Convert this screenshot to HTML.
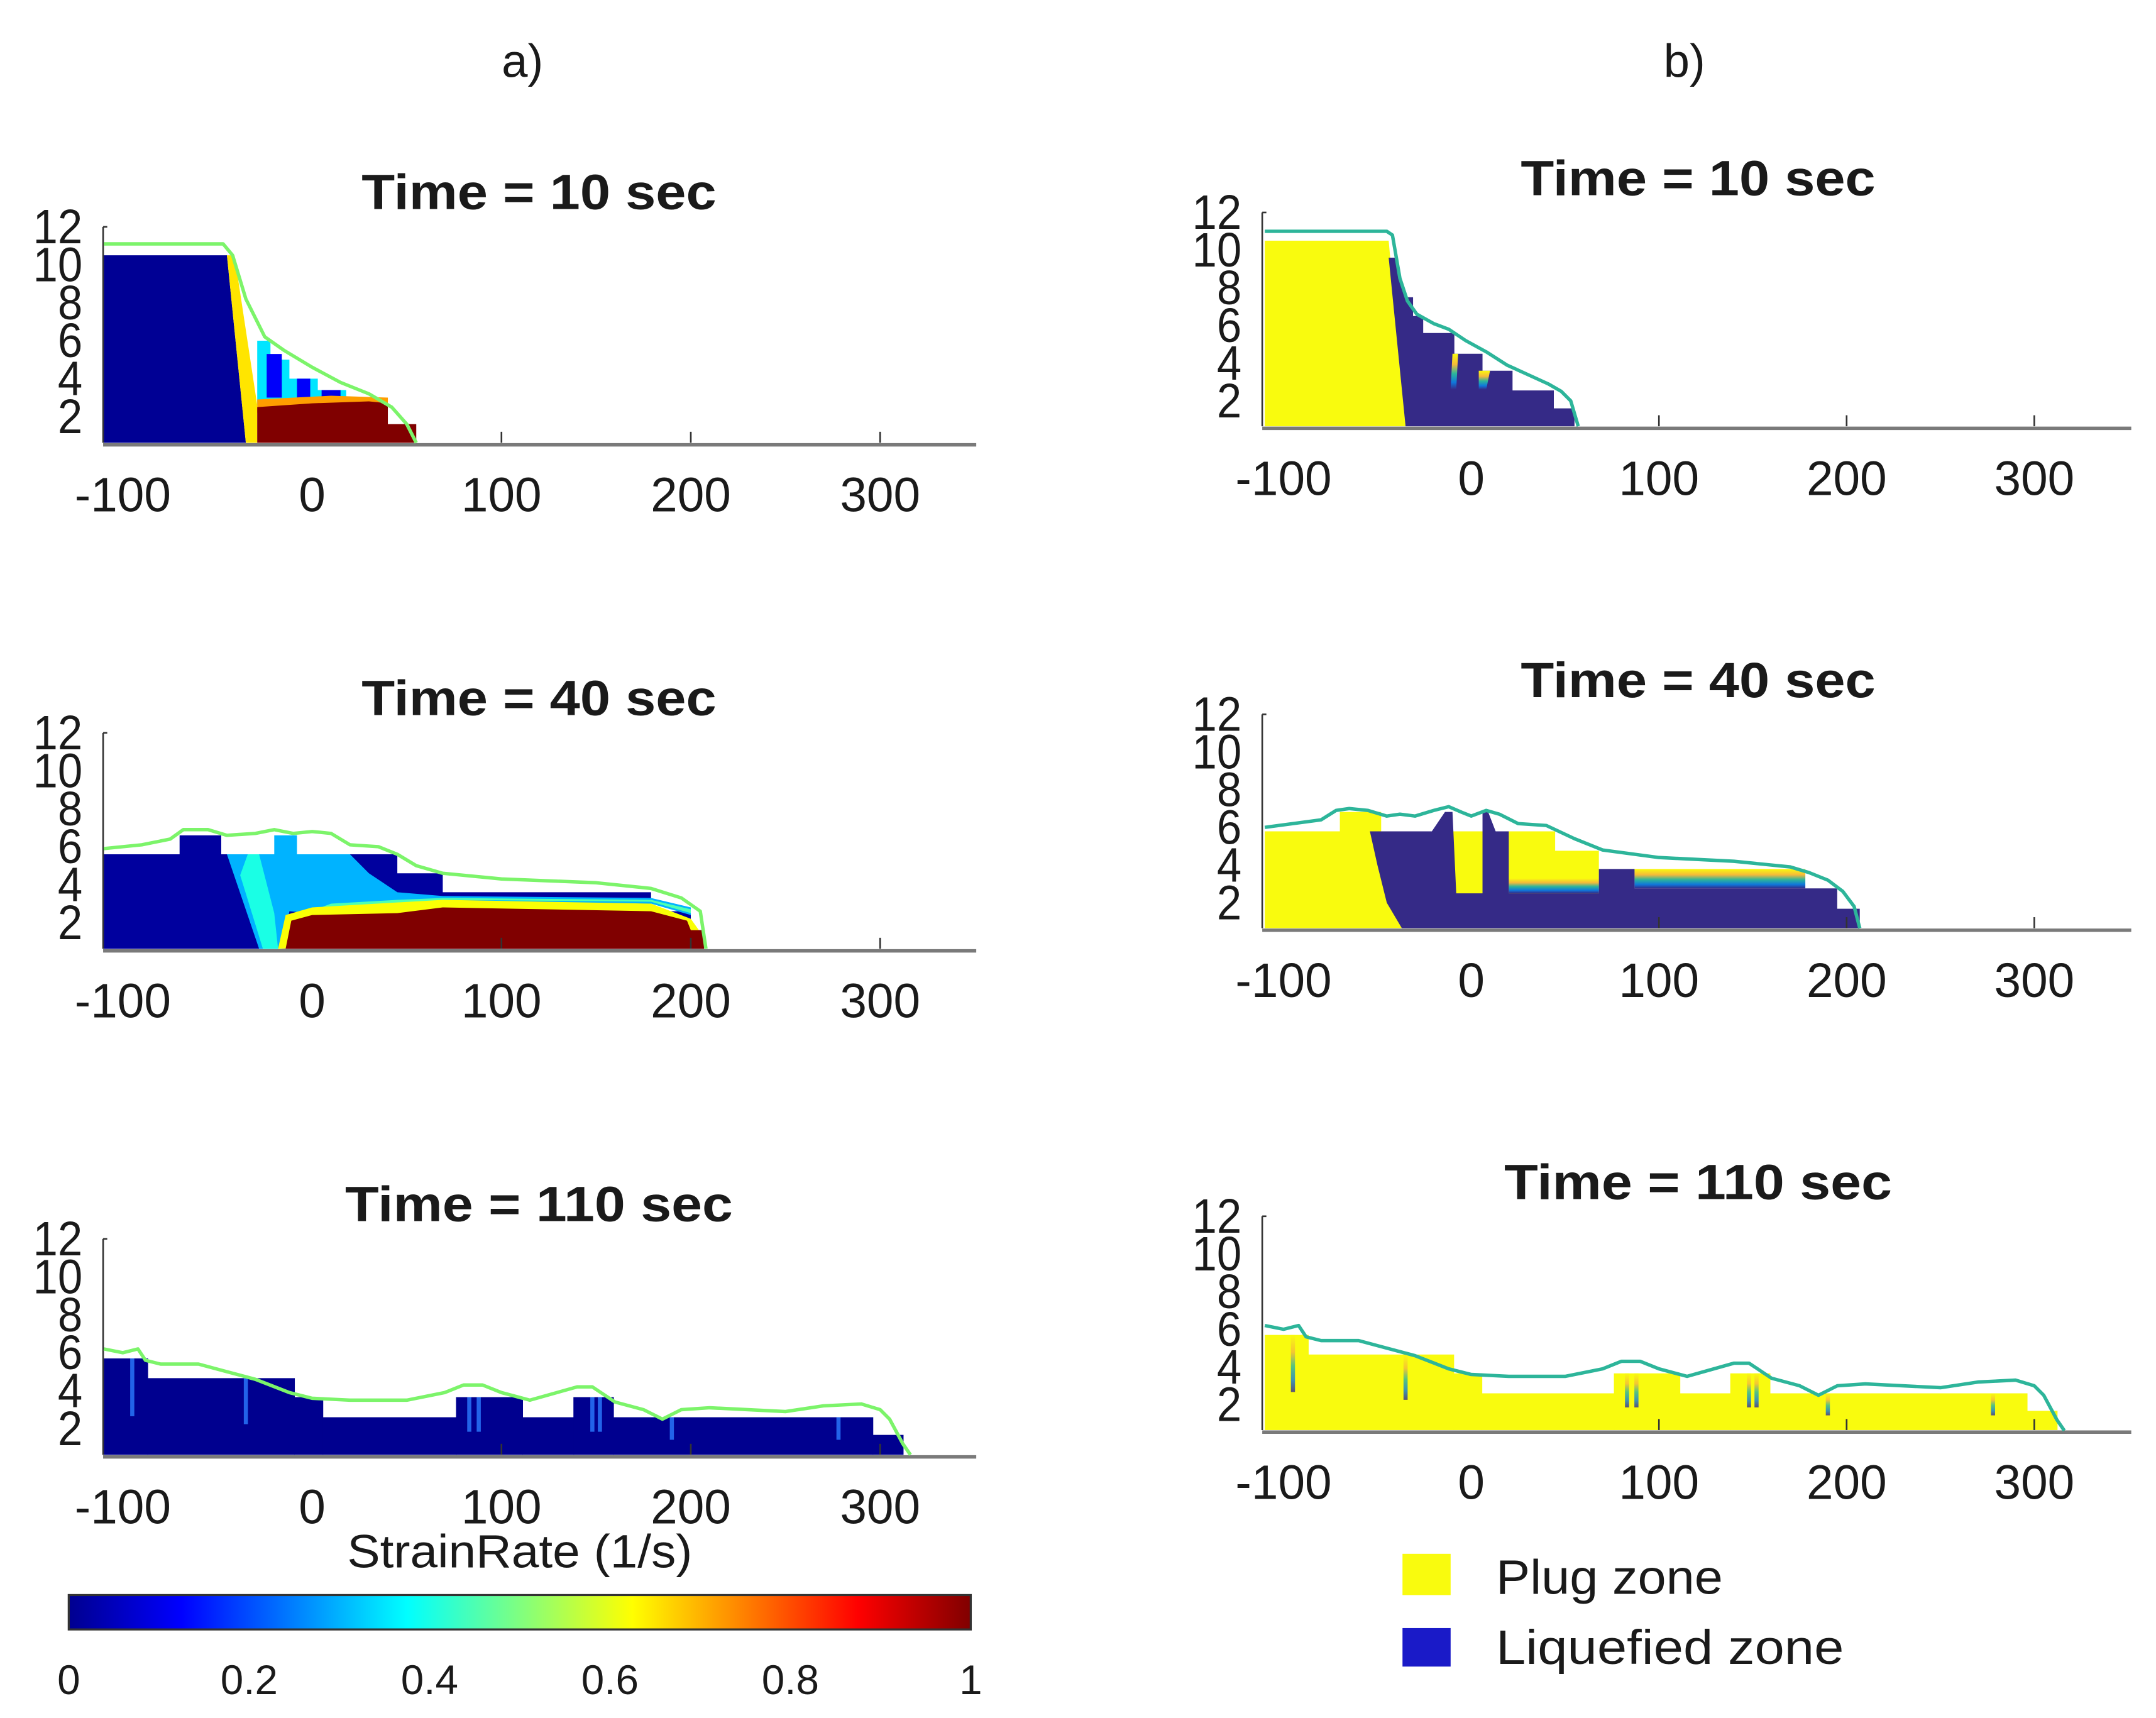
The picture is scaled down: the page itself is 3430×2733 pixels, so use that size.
<!DOCTYPE html>
<html><head><meta charset="utf-8"><style>
html,body{margin:0;padding:0;background:#fff;}
svg{display:block;}
text{font-family:"Liberation Sans",sans-serif;fill:#1a1a1a;}
</style></head>
<body>
<svg id="fig" width="3430" height="2733" viewBox="0 0 1568 1249.4" preserveAspectRatio="none" xmlns="http://www.w3.org/2000/svg">
<defs>
<linearGradient id="jet" x1="0" x2="1" y1="0" y2="0">
<stop offset="0" stop-color="#00008F"/><stop offset="0.125" stop-color="#0000FF"/><stop offset="0.375" stop-color="#00FFFF"/><stop offset="0.625" stop-color="#FFFF00"/><stop offset="0.875" stop-color="#FF0000"/><stop offset="1" stop-color="#800000"/>
</linearGradient>
<linearGradient id="parulaV" x1="0" x2="0" y1="0" y2="1">
<stop offset="0" stop-color="#F9FB0E"/><stop offset="0.3" stop-color="#F5B93A"/><stop offset="0.55" stop-color="#2DB59A"/><stop offset="0.8" stop-color="#0F77DB"/><stop offset="1" stop-color="#352A87"/>
</linearGradient>
</defs>
<text x="380" y="56" font-size="34" text-anchor="middle">a)</text>
<text x="1225" y="56" font-size="34" text-anchor="middle">b)</text>
<g id="plots"></g>
<text x="378" y="1140" font-size="34" text-anchor="middle" textLength="251" lengthAdjust="spacingAndGlyphs">StrainRate (1/s)</text>
<rect x="50" y="1160" width="656" height="25" fill="url(#jet)" stroke="#333" stroke-width="1.5"/>
<g id="cbticks"></g>
<rect x="1020" y="1130" width="35" height="30" fill="#F9FB0E"/>
<text x="1088" y="1159" font-size="35" textLength="165" lengthAdjust="spacingAndGlyphs">Plug zone</text>
<rect x="1020" y="1184" width="35" height="28" fill="#1A1AC8"/>
<text x="1088" y="1210" font-size="35" textLength="253" lengthAdjust="spacingAndGlyphs">Liquefied zone</text>
</svg>
<script>
// ---- data ----
const xTicks = [-100, 0, 100, 200, 300];
const yTicks = [2, 4, 6, 8, 10, 12];
const cbTicks = [0, 0.2, 0.4, 0.6, 0.8, 1];
const titles = ["Time = 10 sec", "Time = 40 sec", "Time = 110 sec"];

// surfaces (x, height)
const surfX10 = [-110,-47,-42,-35,-25,-15,0,15,30,42,50,55];
const surfH10 = [11.1,11.1,10.5,8.2,6.2,5.5,4.6,3.8,3.2,2.5,1.6,0.62];
const surfX40 = [-110,-90,-75,-68,-55,-45,-30,-20,-10,0,10,20,35,45,55,69,100,150,179,195,205,208];
const surfH40 = [5.9,6.1,6.4,6.9,6.9,6.6,6.7,6.9,6.7,6.8,6.7,6.1,6.0,5.6,5.0,4.6,4.3,4.1,3.8,3.3,2.6,0.62];
const surfX110 = [-110,-100,-92,-88,-80,-60,-45,-30,-12,0,20,50,70,80,90,100,115,140,148,160,175,185,195,210,250,270,290,300,305,312,316];
const surfH110 = [6.2,6.0,6.2,5.6,5.4,5.4,5.0,4.6,3.9,3.6,3.5,3.5,3.9,4.3,4.3,3.9,3.5,4.2,4.2,3.4,3.0,2.5,3.0,3.1,2.9,3.2,3.3,3.0,2.5,1.2,0.62];
const surfXb10 = [-110,-45,-42,-38,-34,-29,-20,-12,-3,8,19,30,41,48,53,57];
const surfHb10 = [11,11,10.8,8.5,7.3,6.6,6.1,5.8,5.2,4.6,3.9,3.4,2.9,2.5,2.0,0.65];
const surfXb40 = [-110,-95,-80,-72,-65,-55,-45,-38,-30,-20,-12,-5,0,8,15,25,40,55,70,100,140,170,180,190,198,204,207];
const surfHb40 = [6.0,6.2,6.4,6.9,7.0,6.9,6.6,6.7,6.6,6.9,7.1,6.8,6.6,6.9,6.7,6.2,6.1,5.4,4.8,4.4,4.2,3.9,3.6,3.2,2.6,1.8,0.65];

// step blocks at 110 s (left edge, right edge, top height)
const stepX0 = [-110,-87,-9.5,5.5,76,111,138,159,296];
const stepX1 = [-87,-9.5,5.5,76,111,138,159,296,312];
const stepTop = [5.7,4.66,3.66,2.6,3.66,2.6,3.66,2.6,1.67];
const streakX = [-95,-35,83,88,148,152,190,278];

// strain-rate zones (polygon points as [x,h], strain value)
const zonesA10 = [
 {v:0.02, p:[[-110,0.62],[-110,10.5],[-45,10.5],[-35,0.62]]},
 {v:0.65, p:[[-45,10.5],[-41,10.5],[-29,2.6],[-29,0.62],[-35,0.62]]},
 {v:0.35, p:[[-29,2.6],[-29,6.0],[-22,6.0],[-22,5.0],[-12,5.0],[-12,4.0],[3,4.0],[3,3.4],[18,3.4],[18,2.6]]},
 {v:0.12, p:[[-24,3],[-24,5.3],[-16,5.3],[-16,3]]},
 {v:0.12, p:[[-8,2.9],[-8,4.0],[-1,4.0],[-1,2.9]]},
 {v:0.1, p:[[5,3],[5,3.4],[15,3.4],[15,3]]},
 {v:0.72, p:[[-29,2.2],[-29,2.9],[10,3.1],[40,3],[40,2.4]]},
 {v:1.0, p:[[-29,0.62],[-29,2.5],[0,2.7],[30,2.8],[40,2.7],[40,1.6],[55,1.6],[55,0.62]]}
];
const zonesA40 = [
 {v:0.03, p:[[-110,0.62],[-110,5.6],[-70,5.6],[-70,6.6],[-48,6.6],[-48,5.6],[45,5.6],[45,4.6],[69,4.6],[69,3.6],[179,3.6],[179,2.6],[200,2.6],[200,1.6],[207,1.6],[207,0.62]]},
 {v:0.3, p:[[-45,5.6],[-28,0.62],[-16,0.62],[-12,2.6],[10,2.4],[45,2.9],[69,3.1],[179,3.0],[200,2.4],[200,2.8],[179,3.3],[69,3.4],[45,3.6],[30,4.6],[20,5.6]]},
 {v:0.4, p:[[-38,4.5],[-26,0.62],[-18,0.62],[-20,2.5],[-28,5.6],[-34,5.6]]},
 {v:0.45, p:[[-6,2.4],[10,2.5],[45,3.0],[69,3.2],[179,3.1],[200,2.5],[200,2.7],[179,3.2],[69,3.3],[45,3.2],[10,3.0]]},
 {v:0.3, p:[[-20,5.6],[-20,6.6],[-8,6.6],[-8,5.6]]},
 {v:0.62, p:[[-18,0.62],[-14,2.4],[0,2.8],[69,3.2],[179,3.0],[200,2.2],[205,1.5],[200,1.5]]},
 {v:1.0, p:[[-14,0.62],[-11,2.1],[0,2.4],[45,2.5],[69,2.8],[179,2.6],[198,2.1],[200,1.6],[207,1.6],[207,0.62]]}
];
// plug (0) / liquefied (1) / transition (0.5) zones
const zonesB10 = [
 {v:0, p:[[-110,0.65],[-110,10.5],[-44,10.5],[-35,0.65]]},
 {v:1, p:[[-44,9.6],[-40,9.6],[-35,7.5],[-31,7.5],[-31,6.5],[-25.6,6.5],[-25.6,5.6],[-9,5.6],[-9,4.5],[6,4.5],[6,3.6],[22,3.6],[22,2.55],[44,2.55],[44,1.6],[55,1.6],[55,0.65],[-35,0.65]]},
 {v:0.5, p:[[-11,2.6],[-10,4.5],[-7,4.5],[-8,2.6]]},
 {v:0.5, p:[[4,2.6],[4,3.6],[10,3.6],[8,2.6]]}
];
const zonesB40 = [
 {v:0, p:[[-110,0.65],[-110,5.79],[-70,5.79],[-70,6.82],[-48,6.82],[-48,5.79],[44.7,5.79],[44.7,4.76],[68,4.76],[68,0.65]]},
 {v:0.5, p:[[20,2.5],[20,3.3],[68,3.3],[68,2.5]]},
 {v:0.5, p:[[87,2.76],[87,3.79],[178,3.79],[178,2.76]]},
 {v:1, p:[[-54,5.79],[-21,5.79],[-14,6.82],[-10,6.82],[-8,2.5],[6,2.5],[6,6.82],[9,6.82],[13,5.79],[20,5.79],[20,2.5],[68,2.5],[68,3.79],[87,3.79],[87,2.76],[195,2.76],[195,1.68],[207,1.68],[207,0.65],[-37,0.65],[-45,2],[-50,4]]}
];

// ---- layout ----
const panelsA = {x0:227, sx:1.377, left:75, right:710, sy:13.8, h0:0.62, bases:[322,690,1058], titleX:392, titleY:[152,520,888], line:"#7CF46A"};
const panelsB = {x0:1070, sx:1.365, left:918, right:1550, sy:13.7, h0:0.65, bases:[310,675,1040], titleX:1235, titleY:[142,507,872], line:"#2DB59A"};

const NS = "http://www.w3.org/2000/svg";
const root = document.getElementById("plots");
function mk(tag, attrs, parent){ const e=document.createElementNS(NS,tag); for(const k in attrs) e.setAttribute(k,attrs[k]); (parent||root).appendChild(e); return e; }

function jet(v){
  v=Math.max(0,Math.min(1,v));
  const r=Math.max(0,Math.min(1,1.5-Math.abs(4*v-3)));
  const g=Math.max(0,Math.min(1,1.5-Math.abs(4*v-2)));
  const b=Math.max(0,Math.min(1,1.5-Math.abs(4*v-1)));
  return `rgb(${Math.round(r*255)},${Math.round(g*255)},${Math.round(b*255)})`;
}
function plugColor(v){ return v===0?"#F9FB0E":(v===1?"#352A87":"url(#parulaV)"); }

function drawPanel(P, row, zones, steps, streaks, sx, sh, colorFn, stepColor, streakColor, key){
  const base = P.bases[row];
  const X = x => P.x0 + P.sx*x;
  const Y = h => base - P.sy*(h - P.h0);
  const g = mk("g",{});
  
  
  const t = mk("text",{x:P.titleX, y:P.titleY[row], "font-size":36, "font-weight":"bold", "text-anchor":"middle", "textLength": row===2?282:258, "lengthAdjust":"spacingAndGlyphs"}, g);
  t.textContent = titles[row];
  
  
  if(zones){ zones.forEach((z,i)=>{
    const el = mk("polygon",{points:z.p.map(q=>X(q[0])+","+Y(q[1])).join(" "), fill:colorFn(z.v)}, g);
    
    
  }); }
  if(steps){ for(let i=0;i<stepX0.length;i++){
    const el = mk("rect",{x:X(stepX0[i]), y:Y(stepTop[i]), width:X(stepX1[i])-X(stepX0[i])+0.5, height:Y(P.h0)-Y(stepTop[i]), fill:stepColor}, g);
    
    
  } }
  if(streaks){ streaks.forEach(sxv=>{
    let top=P.h0; for(let i=0;i<stepX0.length;i++) if(sxv>=stepX0[i]&&sxv<stepX1[i]) top=stepTop[i];
    const el = mk("rect",{x:X(sxv)-1.5, y:Y(top), width:3, height:(Y(P.h0)-Y(top))*0.6, fill:streakColor, opacity:0.8}, g);
    
    
  }); }
  // axes
  const ax = mk("line",{x1:P.left, x2:P.right, y1:base+1.5, y2:base+1.5, stroke:"#7a7a7a", "stroke-width":2.5}, g);
  
  
  const ay = mk("line",{x1:P.left, x2:P.left, y1:Y(12), y2:base, stroke:"#333", "stroke-width":1.2}, g);
  
  
  mk("line",{x1:P.left, x2:P.left+3, y1:Y(12), y2:Y(12), stroke:"#333", "stroke-width":1.2}, g);
  xTicks.forEach(v=>{
    if(v>0) mk("line",{x1:X(v), x2:X(v), y1:base, y2:base-8, stroke:"#333", "stroke-width":1.2}, g);
    const tl = mk("text",{x:X(v), y:base+50, "font-size":35, "text-anchor":"middle"}, g);
    tl.textContent = v;
    
    
  });
  yTicks.forEach(v=>{
    const tl = mk("text",{x:P.left-15, y:Y(v)+12, "font-size":35, "text-anchor":"end", "textLength": v>=10?36:18, "lengthAdjust":"spacingAndGlyphs"}, g);
    tl.textContent = v;
    
    
  });
  const ln = mk("polyline",{points:sx.map((x,i)=>X(x)+","+Y(sh[i])).join(" "), fill:"none", stroke:P.line, "stroke-width":2.5, "stroke-linejoin":"round"}, g);
  
  
}

drawPanel(panelsA,0,zonesA10,false,null,surfX10,surfH10,jet,null,null,"a-10s");
drawPanel(panelsA,1,zonesA40,false,null,surfX40,surfH40,jet,null,null,"a-40s");
drawPanel(panelsA,2,null,true,streakX,surfX110,surfH110,jet,"#00008F","#2a7cff","a-110s");
drawPanel(panelsB,0,zonesB10,false,null,surfXb10,surfHb10,plugColor,null,null,"b-10s");
drawPanel(panelsB,1,zonesB40,false,null,surfXb40,surfHb40,plugColor,null,null,"b-40s");
drawPanel(panelsB,2,null,true,streakX,surfX110,surfH110,plugColor,"#F9FB0E","url(#parulaV)","b-110s");

const cb = document.getElementById("cbticks");
cbTicks.forEach(v=>{
  const t = mk("text",{x:50+656*v, y:1232, "font-size":30, "text-anchor":"middle"}, cb);
  t.textContent = v;
  
  
});
</script>
</body></html>
